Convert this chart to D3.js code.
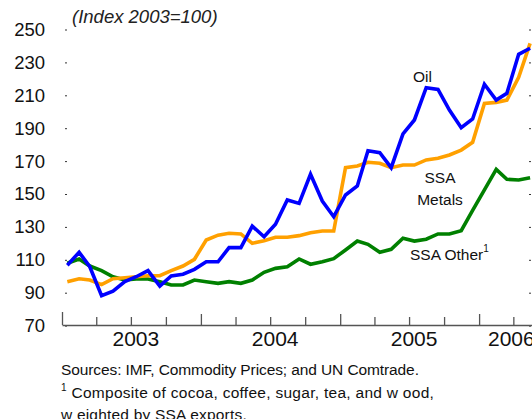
<!DOCTYPE html>
<html><head><meta charset="utf-8">
<script src="https://cdn.jsdelivr.net/npm/d3@7"></script>
<style>
body{margin:0;background:#fff;}
svg{display:block;font-family:Arial,"Liberation Sans",sans-serif;}
</style></head><body>
<svg id="c" width="532" height="419"></svg>
<script>
// ---- data (monthly, Jan 2003 .. May 2006; index 2003=100) ----
const startYear = 2003;
const yearLabels = ["2003","2004","2005","2006"];
const yTicks = [70,90,110,130,150,170,190,210,230,250];
const oil = [106.7,114.6,105.8,88.2,91,96.7,99.7,103.4,94,100.2,101.2,104.2,
  108.8,108.8,117.4,117.4,130.5,124,131.6,146.4,144.3,162,145.7,136.2,
  149.4,154.9,176.3,175.1,166,186.5,195,214.6,213.6,201,190.3,195.6,
  216.7,207.1,211.2,234.9,238.6];
const metals = [96.7,98.5,97.7,94.9,98.5,99.1,99.7,100.3,100.3,103.4,106.2,110.3,
  122,125,126.1,125.7,120,121.6,123.7,123.7,124.7,126.5,127.5,127.5,
  166,167,169.3,168.7,166,167.6,167.6,170.7,171.7,173.7,176.7,181.4,
  205.1,205.7,207.1,220.9,241.6];
const other = [107.9,110.5,106.2,103.4,99.7,97.7,98.3,98.3,96.7,94.7,94.7,97.7,
  96.7,95.7,96.7,95.7,97.7,102.4,104.8,105.8,110.5,107.3,108.8,110.7,
  116,121.4,119.4,114.6,116.4,123.1,121.4,122.5,125.7,125.7,127.7,140,
  152.5,165,158.9,158.5,159.9];
const seriesNames = ["Oil","SSA Metals","SSA Other"];
const seriesColors = ["#0000ff","#ffa000","#008000"];

const svg = d3.select("#c");
const x = d3.scaleTime().domain([new Date(2003,0,1), new Date(2007,0,1)]).range([62, 618]);
const y = d3.scaleLinear().domain([70,250]).range([325.6, 29.5]);
const dates = oil.map((_,i)=>new Date(startYear, i, 15));

svg.append("text").attr("x",72).attr("y",23).attr("font-style","italic")
  .attr("font-size",18.5).attr("fill","#222").text("(Index 2003=100)");

// y axis (left)
const ya = svg.append("g").attr("transform","translate(67,0)")
  .call(d3.axisLeft(y).tickValues(yTicks).tickSize(2).tickPadding(20).tickFormat(d3.format("d")));
ya.select(".domain").remove();
ya.selectAll("text").attr("font-size",18.5).attr("fill","#111").attr("font-family","Arial,'Liberation Sans',sans-serif");
ya.selectAll("line").attr("stroke","#333");
// right ticks
const yr = svg.append("g").attr("transform","translate(529,0)")
  .call(d3.axisRight(y).tickValues(yTicks).tickSize(2).tickFormat(""));
yr.select(".domain").remove();
yr.selectAll("line").attr("stroke","#333");

// x axis
const xa = svg.append("g").attr("transform","translate(0,325)")
  .call(d3.axisTop(x).ticks(d3.timeMonth.every(3)).tickSizeOuter(0).tickFormat(""));
xa.select(".domain").attr("stroke","#555").attr("stroke-width",1.5);
xa.selectAll(".tick line").attr("stroke","#555").attr("stroke-width",1.3)
  .attr("y2", d => d.getMonth()===0 ? (d.getFullYear()===2003 ? -13 : -11) : -8);
svg.selectAll(".ylab").data(yearLabels).join("text")
  .attr("x", (d,i) => i<3 ? x(new Date(+d,6,1))+5 : 488)
  .attr("text-anchor", (d,i) => i<3 ? "middle" : "start")
  .attr("y",346).attr("font-size",21).attr("fill","#111").text(d=>d);

// lines
const line = d3.line().x((d,i)=>x(dates[i])).y(d=>y(d));
const data = [oil, metals, other];
svg.selectAll(".ser").data([2,1,0]).join("path")
  .attr("d", k => line(data[k])).attr("fill","none")
  .attr("stroke", k => seriesColors[k]).attr("stroke-width",3.6)
  .attr("stroke-linejoin","miter");

// labels
const lab = svg.append("g").attr("font-size",15.5).attr("fill","#111");
lab.append("text").attr("x",413).attr("y",82).text("Oil");
lab.append("text").attr("x",440).attr("y",183).attr("text-anchor","middle").text("SSA");
lab.append("text").attr("x",440).attr("y",205).attr("text-anchor","middle").text("Metals");
const ot = lab.append("text").attr("x",410).attr("y",260);
ot.append("tspan").text("SSA Other");
ot.append("tspan").attr("font-size",10).attr("dy",-8).text("1");

// notes
const notes = svg.append("g").attr("font-size",15.5).attr("fill","#111");
notes.append("text").attr("x",61).attr("y",375).attr("letter-spacing",-0.1)
  .text("Sources: IMF, Commodity Prices; and UN Comtrade.");
const n2 = notes.append("text").attr("x",61).attr("y",398).attr("letter-spacing",0.28);
n2.append("tspan").attr("font-size",10).attr("dy",-7).text("1");
n2.append("tspan").attr("dy",7).text(" Composite of cocoa, coffee, sugar, tea, and w ood,");
notes.append("text").attr("x",61).attr("y",420).attr("letter-spacing",0.2).text("w eighted by SSA exports.");
</script>
</body></html>
